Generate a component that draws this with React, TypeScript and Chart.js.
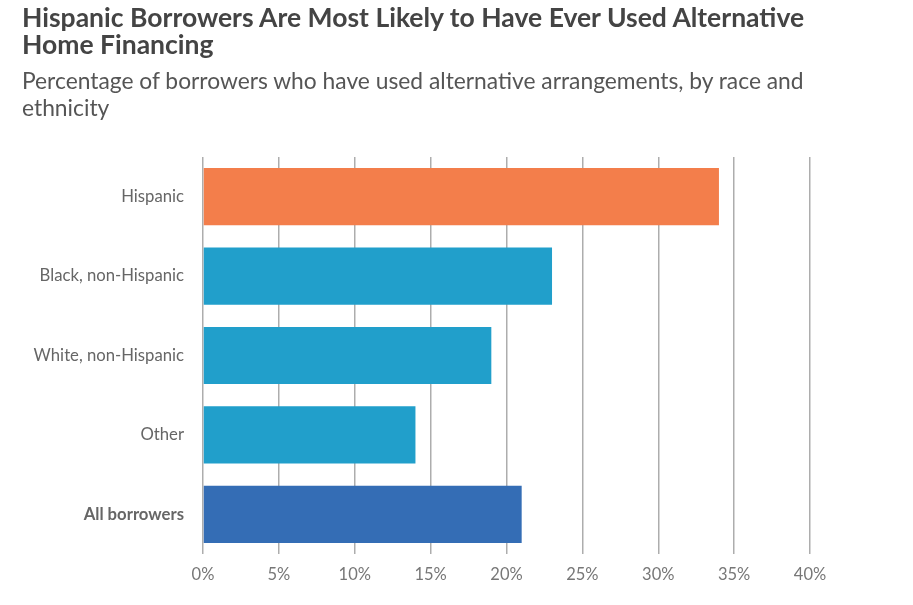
import React, { useEffect, useRef } from "react";
import { Chart, registerables } from "chart.js";

Chart.register(...registerables);

const categories = ["Hispanic", "Black, non-Hispanic", "White, non-Hispanic", "Other", "All borrowers"];
const values = [34, 23, 19, 14, 21];
const barColors = ["#F37E4B", "#219FCB", "#219FCB", "#219FCB", "#346DB5"];
const xTicks = [0, 5, 10, 15, 20, 25, 30, 35, 40];
const titleLines = ["Hispanic Borrowers Are Most Likely to Have Ever Used Alternative", "Home Financing"];
const subtitleLines = ["Percentage of borrowers who have used alternative arrangements, by race and", "ethnicity"];

export default function App() {
  const ref = useRef<HTMLCanvasElement | null>(null);

  useEffect(() => {
    if (!ref.current) return;
    const chart = new Chart(ref.current, {
      type: "bar",
      data: {
        labels: categories,
        datasets: [
          {
            data: values,
            backgroundColor: barColors,
            categoryPercentage: 1,
            barPercentage: 0.72,
          },
        ],
      },
      options: {
        indexAxis: "y",
        animation: false,
        responsive: false,
        devicePixelRatio: 1,
        layout: { padding: { top: 157, right: 103, left: 0, bottom: 0 } },
        plugins: { legend: { display: false }, tooltip: { enabled: false } },
        scales: {
          x: {
            min: 0,
            max: 40,
            afterFit: (s: any) => {
              s.height = 51;
            },
            afterBuildTicks: (s: any) => {
              s.ticks = xTicks.map((v) => ({ value: v }));
            },
            border: { display: false },
            grid: { color: "#ADADAD", lineWidth: 1.5, drawTicks: false },
            ticks: {
              padding: 11,
              color: "#777777",
              font: { family: "Lato", size: 16.5 },
              callback: (v: any) => v + "%",
            },
          },
          y: {
            afterFit: (s: any) => {
              s.width = 203;
            },
            border: { display: false },
            grid: { display: false, drawTicks: false },
            ticks: {
              padding: 19,
              color: "#666666",
              font: (ctx: any) => ({
                family: "Lato",
                size: 16.7,
                weight: ctx.index === 4 ? "bold" : "normal",
              }),
            },
          },
        },
      },
    });
    return () => chart.destroy();
  }, []);

  return (
    <div style={{ position: "absolute", left: 0, top: 0, width: 913, height: 605, background: "#fff", overflow: "hidden" }}>
      <canvas ref={ref} width={913} height={605} style={{ position: "absolute", left: 0, top: 0, width: 913, height: 605 }} />
      <div
        style={{
          position: "absolute",
          left: 22,
          top: 4,
          fontFamily: "Lato",
          fontWeight: "bold",
          fontSize: 26.5,
          lineHeight: "27px",
          color: "#444444",
          whiteSpace: "nowrap",
        }}
      >
        {titleLines.map((l, i) => (
          <div key={i}>{l}</div>
        ))}
      </div>
      <div
        style={{
          position: "absolute",
          left: 22,
          top: 67,
          fontFamily: "Lato",
          fontSize: 22.8,
          lineHeight: "27px",
          color: "#555555",
          whiteSpace: "nowrap",
        }}
      >
        {subtitleLines.map((l, i) => (
          <div key={i}>{l}</div>
        ))}
      </div>
    </div>
  );
}
